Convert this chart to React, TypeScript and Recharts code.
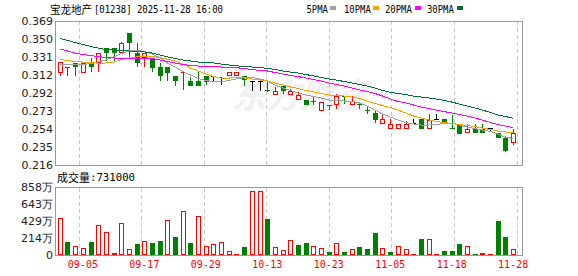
import { ComposedChart, Bar, Line, XAxis, YAxis, CartesianGrid, ReferenceLine } from 'recharts';

// trading days shown (one day missing in mid-Nov, as in the source)
const DATES = [
  '09-02', '09-03', '09-04', '09-05', '09-08', '09-09', '09-10', '09-11', '09-12', '09-15',
  '09-16', '09-17', '09-18', '09-19', '09-22', '09-23', '09-24', '09-25', '09-26', '09-29',
  '09-30', '10-02', '10-03', '10-06', '10-08', '10-09', '10-10', '10-13', '10-14', '10-15',
  '10-16', '10-17', '10-20', '10-21', '10-22', '10-23', '10-24', '10-27', '10-28', '10-30',
  '10-31', '11-03', '11-04', '11-05', '11-06', '11-07', '11-10', '11-11', '11-13', '11-14',
  '11-17', '11-18', '11-19', '11-20', '11-21', '11-24', '11-25', '11-26', '11-27', '11-28',
];

const OPEN = [
  0.3151, 0.3198, 0.3247, 0.3151, 0.3255, 0.3258, 0.3400, 0.3400, 0.3357, 0.3559,
  0.3347, 0.3304, 0.3294, 0.3198, 0.3201, 0.3102, 0.3140, 0.3049, 0.3049, 0.3102,
  0.3102, 0.3052, 0.3116, 0.3116, 0.3102, 0.3056, 0.3056, 0.2957, 0.2911, 0.2996,
  0.2911, 0.2861, 0.2851, 0.2838, 0.2748, 0.2798, 0.2808, 0.2898, 0.2805, 0.2809,
  0.2748, 0.2709, 0.2609, 0.2556, 0.2556, 0.2556, 0.2603, 0.2649, 0.2550, 0.2646,
  0.2646, 0.2549, 0.2596, 0.2507, 0.2539, 0.2546, 0.2550, 0.2497, 0.2444, 0.2401,
];
const CLOSE = [
  0.3251, 0.3195, 0.3212, 0.3247, 0.3212, 0.3347, 0.3357, 0.3357, 0.3453, 0.3464,
  0.3258, 0.3353, 0.3205, 0.3116, 0.3151, 0.3060, 0.3145, 0.3007, 0.3007, 0.3056,
  0.3102, 0.3052, 0.3145, 0.3145, 0.3077, 0.3056, 0.3056, 0.2947, 0.2947, 0.2957,
  0.2947, 0.2904, 0.2805, 0.2840, 0.2830, 0.2793, 0.2893, 0.2893, 0.2840, 0.2805,
  0.2744, 0.2652, 0.2649, 0.2596, 0.2596, 0.2596, 0.2603, 0.2550, 0.2638, 0.2646,
  0.2609, 0.2539, 0.2503, 0.2539, 0.2507, 0.2514, 0.2550, 0.2454, 0.2320, 0.2497,
];
const HIGH = [
  0.3251, 0.3198, 0.3247, 0.3247, 0.3300, 0.3347, 0.3400, 0.3400, 0.3470, 0.3565,
  0.3453, 0.3353, 0.3300, 0.3240, 0.3201, 0.3102, 0.3145, 0.3098, 0.3145, 0.3102,
  0.3102, 0.3098, 0.3145, 0.3145, 0.3102, 0.3056, 0.3056, 0.3040, 0.2992, 0.2996,
  0.2965, 0.2939, 0.2851, 0.2896, 0.2830, 0.2798, 0.2911, 0.2898, 0.2893, 0.2833,
  0.2779, 0.2744, 0.2702, 0.2646, 0.2596, 0.2630, 0.2646, 0.2649, 0.2702, 0.2702,
  0.2646, 0.2691, 0.2596, 0.2592, 0.2592, 0.2596, 0.2550, 0.2497, 0.2471, 0.2539,
];
const LOW = [
  0.3109, 0.3109, 0.3109, 0.3151, 0.3151, 0.3151, 0.3270, 0.3258, 0.3357, 0.3310,
  0.3205, 0.3205, 0.3151, 0.3056, 0.3056, 0.3003, 0.2957, 0.3007, 0.3007, 0.3010,
  0.3045, 0.3010, 0.3116, 0.3116, 0.3003, 0.2947, 0.2950, 0.2936, 0.2911, 0.2911,
  0.2911, 0.2861, 0.2805, 0.2797, 0.2748, 0.2744, 0.2756, 0.2805, 0.2805, 0.2756,
  0.2702, 0.2603, 0.2609, 0.2556, 0.2556, 0.2556, 0.2603, 0.2550, 0.2550, 0.2646,
  0.2609, 0.2539, 0.2503, 0.2507, 0.2507, 0.2514, 0.2507, 0.2454, 0.2295, 0.2372,
];

const MA5 = [
  0.3230, 0.3228, 0.3228, 0.3228, 0.3238, 0.3254, 0.3276, 0.3308, 0.3345, 0.3371,
  0.3377, 0.3366, 0.3339, 0.3302, 0.3244, 0.3201, 0.3153, 0.3116, 0.3079, 0.3058,
  0.3047, 0.3045, 0.3058, 0.3074, 0.3090, 0.3090, 0.3074, 0.3053, 0.3010, 0.2978,
  0.2952, 0.2925, 0.2904, 0.2888, 0.2872, 0.2851, 0.2845, 0.2840, 0.2835, 0.2819,
  0.2787, 0.2744, 0.2702, 0.2670, 0.2638, 0.2612, 0.2596, 0.2585, 0.2585, 0.2590,
  0.2601, 0.2603, 0.2585, 0.2564, 0.2548, 0.2532, 0.2516, 0.2489, 0.2452, 0.2444,
];
const MA10 = [
  0.3283, 0.3270, 0.3260, 0.3254, 0.3249, 0.3241, 0.3244, 0.3254, 0.3281, 0.3297,
  0.3308, 0.3313, 0.3313, 0.3302, 0.3286, 0.3265, 0.3233, 0.3191, 0.3159, 0.3127,
  0.3100, 0.3084, 0.3084, 0.3088, 0.3084, 0.3074, 0.3063, 0.3053, 0.3031, 0.3010,
  0.2989, 0.2973, 0.2952, 0.2936, 0.2920, 0.2904, 0.2898, 0.2893, 0.2883, 0.2867,
  0.2840, 0.2813, 0.2792, 0.2771, 0.2744, 0.2713, 0.2681, 0.2659, 0.2638, 0.2622,
  0.2612, 0.2601, 0.2590, 0.2580, 0.2569, 0.2553, 0.2537, 0.2521, 0.2511, 0.2500,
];
const MA20 = [
  0.3393, 0.3371, 0.3350, 0.3334, 0.3323, 0.3313, 0.3302, 0.3297, 0.3294, 0.3294,
  0.3294, 0.3294, 0.3292, 0.3276, 0.3260, 0.3244, 0.3228, 0.3217, 0.3212, 0.3207,
  0.3203, 0.3201, 0.3198, 0.3194, 0.3185, 0.3175, 0.3164, 0.3159, 0.3143, 0.3127,
  0.3111, 0.3100, 0.3084, 0.3068, 0.3053, 0.3031, 0.3015, 0.2999, 0.2978, 0.2957,
  0.2941, 0.2920, 0.2893, 0.2861, 0.2835, 0.2819, 0.2798, 0.2776, 0.2760, 0.2744,
  0.2728, 0.2713, 0.2697, 0.2681, 0.2659, 0.2638, 0.2612, 0.2590, 0.2574, 0.2558,
];
const MA30 = [
  0.3504, 0.3483, 0.3462, 0.3440, 0.3419, 0.3403, 0.3387, 0.3382, 0.3377, 0.3371,
  0.3366, 0.3361, 0.3350, 0.3329, 0.3308, 0.3292, 0.3276, 0.3265, 0.3254, 0.3249,
  0.3244, 0.3233, 0.3223, 0.3214, 0.3207, 0.3201, 0.3196, 0.3187, 0.3175, 0.3159,
  0.3148, 0.3138, 0.3122, 0.3106, 0.3090, 0.3074, 0.3063, 0.3047, 0.3031, 0.3015,
  0.2999, 0.2978, 0.2952, 0.2932, 0.2920, 0.2909, 0.2893, 0.2883, 0.2872, 0.2861,
  0.2847, 0.2829, 0.2808, 0.2787, 0.2766, 0.2744, 0.2718, 0.2691, 0.2675, 0.2656,
];

// shares traded
const VOLUME = [
  4730000, 1590000, 1090000, 840000, 1590000, 3730000, 2850000, 210000, 3980000, 750000,
  1380000, 1720000, 1510000, 1760000, 4360000, 2260000, 5610000, 1510000, 4860000, 1090000,
  1340000, 1590000, 540000, 80000, 1000000, 8040000, 8040000, 4520000, 1000000, 590000,
  1850000, 1260000, 1510000, 1130000, 840000, 380000, 1470000, 380000, 710000, 1000000,
  750000, 2760000, 840000, 380000, 1130000, 710000, 130000, 2010000, 2010000, 130000,
  500000, 500000, 1380000, 1130000, 130000, 250000, 130000, 4270000, 2300000, 731000,
];
// 1 = red (up) volume bar, 0 = green
const VOL_UP = [
  1, 0, 1, 1, 0, 1, 1, 1, 1, 1,
  0, 1, 0, 0, 1, 0, 1, 0, 1, 1,
  1, 1, 1, 1, 0, 1, 1, 0, 1, 1,
  1, 0, 0, 1, 1, 0, 1, 0, 1, 0,
  0, 0, 1, 0, 1, 1, 1, 0, 1, 1,
  0, 0, 0, 1, 0, 1, 1, 0, 0, 1,
];

const LABEL_DATES = ['09-05', '09-17', '09-29', '10-13', '10-23', '11-05', '11-18', '11-28'];
const PRICE_TICKS = [0.216, 0.235125, 0.25425, 0.273375, 0.2925, 0.311625, 0.33075, 0.349875, 0.369];
const PRICE_LABELS = ['0.216', '0.235', '0.254', '0.273', '0.292', '0.312', '0.331', '0.350', '0.369'];
const VOL_TICKS = [0, 2145000, 4290000, 6435000, 8580000];
const VOL_LABELS = ['0', '214万', '429万', '643万', '858万'];

const UP = '#ff0000';
const DOWN = '#008000';
const FLAT = '#000000';
const MA_LINES = [
  { key: 'ma5', label: '5PMA', color: '#a0a0a0' },
  { key: 'ma10', label: '10PMA', color: '#f5a300' },
  { key: 'ma20', label: '20PMA', color: '#ff00ff' },
  { key: 'ma30', label: '30PMA', color: '#00703c' },
];

const MONO = '"DejaVu Sans Mono", monospace';
const SANS = '"DejaVu Sans", sans-serif';
const CJK = '"Noto Sans CJK SC", sans-serif';

const rows = DATES.map((date, i) => ({
  date,
  open: OPEN[i],
  close: CLOSE[i],
  high: HIGH[i],
  low: LOW[i],
  range: [LOW[i], HIGH[i]],
  vol: VOLUME[i],
  volUp: VOL_UP[i] === 1,
  ma5: MA5[i],
  ma10: MA10[i],
  ma20: MA20[i],
  ma30: MA30[i],
}));

// pick the label of the nearest listed tick
const labelFor = (ticks: number[], labels: string[]) => (v: number) => {
  let best = 0;
  ticks.forEach((t, i) => {
    if (Math.abs(t - v) < Math.abs(ticks[best] - v)) best = i;
  });
  return labels[best];
};

const Candle = (props: any) => {
  const { x, y, width, height, payload } = props;
  const { open, close, high, low } = payload;
  const top = Math.min(y, y + height);
  const k = high - low > 0 ? Math.abs(height) / (high - low) : 0;
  const py = (v: number) => top + (high - v) * k;
  const n = Math.round(x + width / 2);
  const cx = n + 0.5;
  const color = close > open ? UP : close < open ? DOWN : FLAT;
  const yH = py(high), yL = py(low);
  const bTop = Math.round(py(Math.max(open, close)));
  const bBot = Math.round(py(Math.min(open, close)));
  const thin = bBot - bTop < 2;
  return (
    <g>
      {yH < bTop && <line x1={cx} x2={cx} y1={yH} y2={bTop} stroke={color} />}
      {yL > bBot && <line x1={cx} x2={cx} y1={thin ? bTop : bBot} y2={yL} stroke={color} />}
      {thin ? (
        <line x1={n - 2} x2={n + 3} y1={bTop + 0.5} y2={bTop + 0.5} stroke={color} />
      ) : close > open ? (
        <rect x={n - 1.5} y={bTop + 0.5} width={4} height={bBot - bTop} fill="#fff" stroke={color} />
      ) : (
        <rect x={n - 2} y={bTop} width={5} height={bBot - bTop + 1} fill={color} />
      )}
    </g>
  );
};

const VolBar = (props: any) => {
  const { x, y, width, height, payload } = props;
  const n = Math.round(x + width / 2);
  const top = Math.round(Math.min(y, y + height));
  const h = Math.round(Math.abs(height));
  if (!payload.volUp) {
    return <rect x={n - 2} y={top} width={5} height={Math.max(h, 1)} fill={DOWN} />;
  }
  if (h < 3) {
    return <rect x={n - 2} y={top} width={5} height={Math.max(h, 1)} fill={UP} />;
  }
  return <rect x={n - 1.5} y={top + 0.5} width={4} height={h - 1} fill="#fff" stroke={UP} />;
};

const abs0 = { position: 'absolute' as const, left: 0, top: 0 };

export default function App() {
  const axisTick = { fontSize: 11, fill: '#222', fontFamily: SANS };
  const priceMargin = { top: 21, right: 56, bottom: 11, left: 0 };
  const volMargin = { top: 22, right: 56, bottom: 0, left: 0 };
  const volX = {
    dataKey: 'date',
    ticks: LABEL_DATES,
    interval: 0,
    padding: { left: 0, right: 5 },
    height: 21,
    axisLine: false,
    tickLine: false,
    tickSize: 0,
    tickMargin: 6,
  };

  return (
    <div style={{ ...abs0, width: 578, height: 276, background: '#fff', shapeRendering: 'crispEdges', overflow: 'hidden' }}>

      {/* faint watermark */}
      <svg width={578} height={276} style={abs0}>
        <text x={232} y={108} fontFamily={CJK} fontSize={34} fontWeight="bold" fontStyle="italic" fill="#f0f0f0">东方财富</text>
      </svg>

      {/* grids sit in their own layer so bars and candles cover them */}
      <div style={abs0}>
        <ComposedChart width={578} height={176} data={rows} margin={priceMargin}>
          <CartesianGrid vertical={false} stroke="#cccccc" />
          <XAxis dataKey="date" hide padding={{ left: 0, right: 5 }} />
          <YAxis domain={[0.216, 0.369]} ticks={PRICE_TICKS} interval={0} allowDataOverflow width={56} axisLine={false} tickLine={false} tick={false} />
          {LABEL_DATES.map((d) => (
            <ReferenceLine key={d} x={d} stroke="#c8c8c8" strokeDasharray="4 3" />
          ))}
          <Line dataKey="ma30" stroke="none" dot={false} activeDot={false} isAnimationActive={false} />
        </ComposedChart>
      </div>
      <div style={{ ...abs0, top: 165 }}>
        <ComposedChart width={578} height={111} data={rows} margin={volMargin}>
          <CartesianGrid vertical={false} stroke="#cccccc" />
          <XAxis {...volX} tick={false} />
          <YAxis domain={[0, 8580000]} ticks={VOL_TICKS} interval={0} allowDataOverflow width={56} axisLine={false} tickLine={false} tick={false} />
          {LABEL_DATES.map((d) => (
            <ReferenceLine key={d} x={d} stroke="#c8c8c8" strokeDasharray="4 3" />
          ))}
          <Line dataKey="vol" stroke="none" dot={false} activeDot={false} isAnimationActive={false} />
        </ComposedChart>
      </div>

      {/* price pane */}
      <div style={abs0}>
        <ComposedChart width={578} height={176} data={rows} margin={priceMargin}>
          <XAxis dataKey="date" hide padding={{ left: 0, right: 5 }} />
          <YAxis
            domain={[0.216, 0.369]}
            ticks={PRICE_TICKS}
            interval={0}
            allowDataOverflow
            width={56}
            axisLine={false}
            tickLine={false}
            tickSize={0}
            tickMargin={3}
            tick={axisTick}
            tickFormatter={labelFor(PRICE_TICKS, PRICE_LABELS)}
          />
          <Bar dataKey="range" shape={Candle} isAnimationActive={false} />
          {MA_LINES.map((m) => (
            <Line key={m.key} type="linear" dataKey={m.key} stroke={m.color} strokeWidth={1} dot={false} activeDot={false} isAnimationActive={false} />
          ))}
        </ComposedChart>
      </div>

      {/* volume pane */}
      <div style={{ ...abs0, top: 165 }}>
        <ComposedChart width={578} height={111} data={rows} margin={volMargin}>
          <XAxis {...volX} tick={{ fontSize: 10, fill: '#ff0000', fontFamily: MONO }} />
          <YAxis
            domain={[0, 8580000]}
            ticks={VOL_TICKS}
            interval={0}
            allowDataOverflow
            width={56}
            axisLine={false}
            tickLine={false}
            tickSize={0}
            tickMargin={3}
            tick={axisTick}
            tickFormatter={labelFor(VOL_TICKS, VOL_LABELS)}
          />
          <Bar dataKey="vol" shape={VolBar} isAnimationActive={false} />
        </ComposedChart>
      </div>

      {/* pane frames */}
      <div style={{ position: 'absolute', left: 55, top: 21, width: 468, height: 145, border: '1px solid #999', boxSizing: 'border-box' }} />
      <div style={{ position: 'absolute', left: 55, top: 187, width: 468, height: 69, border: '1px solid #999', boxSizing: 'border-box' }} />

      {/* title, legend, volume caption */}
      <svg width={578} height={276} style={abs0}>
        <text x={50} y={13.5} fontFamily={CJK} fontSize={11} fill="#000" textLength={42} lengthAdjust="spacingAndGlyphs">宝龙地产</text>
        <text x={94} y={12.5} fontFamily={MONO} fontSize={11} fill="#000" textLength={129} lengthAdjust="spacingAndGlyphs">[01238] 2025-11-28 16:00</text>
        {MA_LINES.map((m, i) => {
          const lx = [306.5, 344, 385, 427][i];
          const sx = [330, 373, 415, 457][i];
          return (
            <g key={m.key}>
              <text x={lx} y={12.5} fontFamily={MONO} fontSize={11} fill="#000" textLength={m.label.length * 5.35} lengthAdjust="spacingAndGlyphs">{m.label}</text>
              <rect x={sx} y={6} width={6} height={4} fill={m.color} />
            </g>
          );
        })}
        <text x={57} y={181.5} fontFamily={CJK} fontSize={11} fill="#000" textLength={33} lengthAdjust="spacingAndGlyphs">成交量</text>
        <text x={90} y={181} fontFamily={MONO} fontSize={11} fill="#000" textLength={45} lengthAdjust="spacingAndGlyphs">:731000</text>
      </svg>
    </div>
  );
}
